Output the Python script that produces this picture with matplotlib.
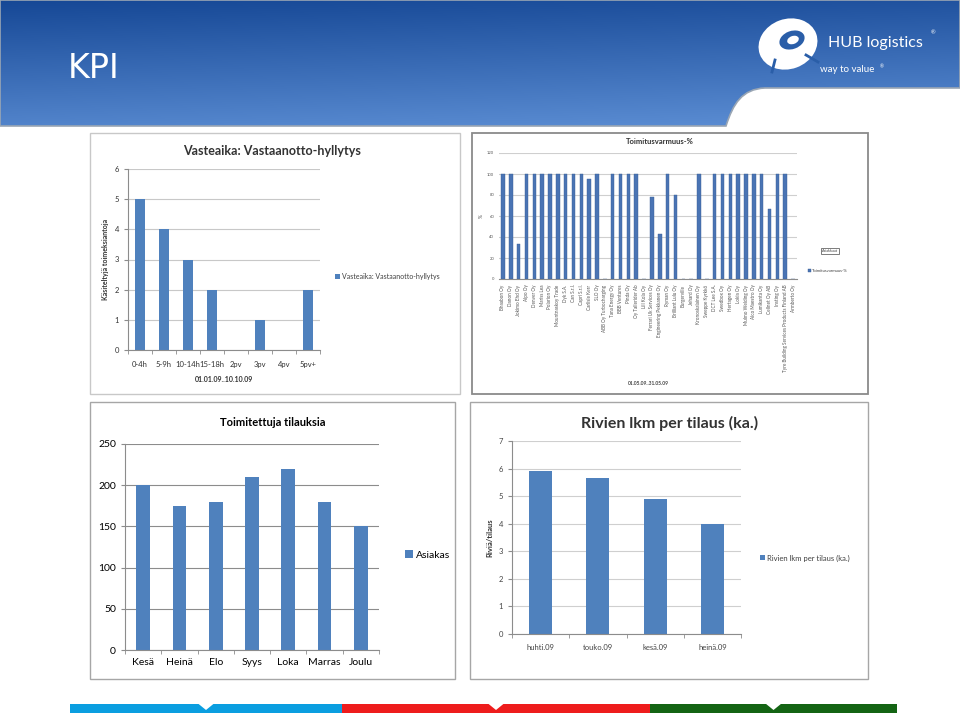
import numpy as np
import matplotlib
matplotlib.use("Agg")
import matplotlib.pyplot as plt
from matplotlib.patches import Rectangle, PathPatch, Ellipse, Polygon
from matplotlib.path import Path

plt.rcParams['font.family'] = ['Lato', 'DejaVu Sans']

W, H = 960, 716

# --- data -------------------------------------------------------------
vaste_cats = ['0-4h', '5-9h', '10-14h', '15-18h', '2pv', '3pv', '4pv', '5pv+']
vaste_vals = [5, 4, 3, 2, 0, 1, 0, 2]

toimitus_cats = ['Bhaabon Oy', 'Danon Oy', 'Jokimo Ehd Oy', 'Alpo Oy', 'Denver Oy',
                 'Mariss Lea', 'Polarion Oy', 'Mountnaskoy Trade', 'Dyk S.A.',
                 'Can S.r.l.', 'Capri S.r.l.', 'Carlisle Kerr', 'SLO Oy',
                 'ABB Oy Turbocharging', 'Tana Energy Oy', 'BBB Ventures', 'Pinda Oy',
                 'Oy Tallerider Ab', 'Lill Kola Oy', 'Ferrari Uk Services Oy',
                 'Engineering Pekkanen Oy', 'Ryman Oy', 'Brilliant Lulu Oy',
                 'Burgerville', 'Jehard Oy', 'Kronoskalainen Oy', 'Sweppe Kyrkkö',
                 'DCT Lee S.A.', 'Swedbox Oy', 'Hertagen Oy', 'Lokia Oy',
                 'Mulmo Welding Oy', 'Alco Maestro Oy', 'Lumikanta Oy', 'Cellnet Oy AB',
                 'Insting Oy', 'Tyre Building Services Products Finland AB', 'Armberto Oy']
toimitus_vals = [100, 100, 33, 100, 100, 100, 100, 100, 100, 100, 100, 95, 100, 0,
                 100, 100, 100, 100, 0, 78, 43, 100, 80, 0, 0, 100, 0, 100, 100, 100,
                 100, 100, 100, 100, 67, 100, 100, 0]

kk_cats = ['Kesä', 'Heinä', 'Elo', 'Syys', 'Loka', 'Marras', 'Joulu']
kk_vals = [200, 175, 180, 210, 220, 180, 150]

rivi_cats = ['huhti.09', 'touko.09', 'kesä.09', 'heinä.09']
rivi_vals = [5.9, 5.65, 4.9, 4.0]

BLUE = '#4F81BD'

fig = plt.figure(figsize=(W / 100, H / 100), dpi=100)
fig.patch.set_facecolor('white')

# background axes in pixel coordinates
bg = fig.add_axes([0, 0, 1, 1])
bg.set_xlim(0, W)
bg.set_ylim(H, 0)
bg.axis('off')

# header with gradient
verts = [(0, 0), (W, 0), (W, 88), (765, 88), (742, 89), (733, 104), (726, 126), (0, 126), (0, 0)]
codes = [Path.MOVETO, Path.LINETO, Path.LINETO, Path.LINETO,
         Path.CURVE4, Path.CURVE4, Path.CURVE4, Path.LINETO, Path.CLOSEPOLY]
hdr = PathPatch(Path(verts, codes), facecolor='none', edgecolor='#9aa6b4', lw=1.2)
bg.add_patch(hdr)
yy = np.linspace(0, 1, 128)[:, None]
xx = np.linspace(0, 1, 256)[None, :]
top = np.array([22, 72, 150]) / 255
bot = np.array([92, 142, 212]) / 255
t = np.clip(yy * 0.85 + xx * 0.15, 0, 1)[..., None]
grad = top * (1 - t) + bot * t
im = bg.imshow(grad, extent=(0, W, 126, 0), aspect='auto', zorder=0)
im.set_clip_path(hdr)

bg.text(68, 68, 'KPI', color='white', fontsize=24, va='center', ha='left',
        family=['DejaVu Sans'])

# logo
bg.add_patch(Ellipse((788, 44), 60, 50, angle=-20, facecolor='white', edgecolor='none'))
bg.add_patch(Ellipse((792, 40), 26, 18, angle=-20, facecolor='#2a5ea8', edgecolor='none'))
bg.add_patch(Ellipse((793, 40), 12, 8, angle=-20, facecolor='white', edgecolor='none'))
bg.plot([806, 818], [55, 62], color='#2a5ea8', lw=2)
bg.plot([775, 772], [60, 72], color='#2a5ea8', lw=2)
bg.text(828, 43, 'HUB logistics', color='white', fontsize=11.5, va='center', ha='left')
bg.text(931, 33, '®', color='white', fontsize=4, va='center')
bg.text(820, 70, 'way to value', color='white', fontsize=7, va='center', ha='left')
bg.text(880, 67, '®', color='white', fontsize=3.5, va='center')

# panel frames
bg.add_patch(Rectangle((90, 133), 370, 261, facecolor='white', edgecolor='#c8c8c8', lw=1))
bg.add_patch(Rectangle((472, 133), 396, 261, facecolor='white', edgecolor='#8a8a8a', lw=1.3))
bg.add_patch(Rectangle((90, 402), 365, 277, facecolor='white', edgecolor='#a6a6a6', lw=1))
bg.add_patch(Rectangle((470, 402), 398, 277, facecolor='white', edgecolor='#a6a6a6', lw=1))

# bottom colour stripes
stripes = [(70, 342, '#0a9ee0'), (342, 650, '#ee1c1c'), (650, 897, '#146414')]
for x0, x1, col in stripes:
    bg.add_patch(Rectangle((x0, 704), x1 - x0, 9, facecolor=col, edgecolor='none'))
    xm = (x0 + x1) / 2
    bg.add_patch(Polygon([(xm - 8, 703.5), (xm + 8, 703.5), (xm, 710)], facecolor='white',
                         edgecolor='none'))


def ax_at(x0, y0, x1, y1):
    return fig.add_axes([x0 / W, 1 - y1 / H, (x1 - x0) / W, (y1 - y0) / H])


def excel_style(ax, n, grid_col='#b0b0b0', fs=6, tick_col='black'):
    ax.set_xlim(-0.5, n - 0.5)
    for s in ['top', 'right']:
        ax.spines[s].set_visible(False)
    for s in ['left', 'bottom']:
        ax.spines[s].set_color('#8c8c8c')
        ax.spines[s].set_linewidth(0.8)
    ax.yaxis.grid(True, color=grid_col, lw=0.8)
    ax.set_axisbelow(True)
    ax.set_xticks(np.arange(n))
    ax.set_xticks(np.arange(n + 1) - 0.5, minor=True)
    ax.tick_params(axis='x', which='major', length=0, pad=4, labelsize=fs, colors=tick_col)
    ax.tick_params(axis='x', which='minor', length=3, color='#8c8c8c')
    ax.tick_params(axis='y', length=3, color='#8c8c8c', labelsize=fs, colors=tick_col)
    ax.patch.set_alpha(0)


def legend_at(ax, label, px, py, fs):
    h = ax.patches[0]
    ax.legend([h], [label], loc='center left', bbox_to_anchor=(px / W, 1 - py / H),
              bbox_transform=fig.transFigure, frameon=False, fontsize=fs,
              handlelength=0.7, handleheight=0.7, handletextpad=0.3, borderpad=0,
              labelcolor='#404040')


# --- top-left: Vasteaika ---------------------------------------------
ax1 = ax_at(128, 169, 320, 350)
x = np.arange(len(vaste_cats))
ax1.bar(x, vaste_vals, width=0.4, color=BLUE)
excel_style(ax1, len(vaste_cats), grid_col='#c8c8c8', fs=5.5, tick_col='#333333')
ax1.tick_params(axis='x', which='major', pad=8)
ax1.set_ylim(0, 6)
ax1.set_yticks(range(7))
ax1.set_xticklabels(vaste_cats)
ax1.set_xlabel('01.01.09..10.10.09', fontsize=5, fontweight='bold', labelpad=6, color='#333333')
ax1.set_ylabel('Käsiteltyjä toimeksiantoja', fontsize=5, fontweight='bold', color='#333333')
legend_at(ax1, 'Vasteaika: Vastaanotto-hyllytys', 332, 276, 5)
bg.text(272, 151, 'Vasteaika: Vastaanotto-hyllytys', fontsize=9, fontweight='bold',
        ha='center', va='center', color='#333333')

# --- top-right: Toimitusvarmuus --------------------------------------
ax2 = ax_at(499, 153, 797, 279)
x = np.arange(len(toimitus_cats))
ax2.bar(x, toimitus_vals, width=0.45, color='#4a74b4', edgecolor='#3a5f96', lw=0.3)
excel_style(ax2, len(toimitus_cats), grid_col='#cfcfcf', fs=3, tick_col='#555555')
ax2.set_ylim(0, 120)
ax2.set_yticks(range(0, 121, 20))
ax2.set_xticklabels(toimitus_cats, rotation=90, fontsize=3.3)
ax2.tick_params(axis='x', which='minor', length=0)
ax2.tick_params(axis='y', length=0)
ax2.spines['left'].set_visible(False)
ax2.set_xlabel('01.05.09..31.05.09', fontsize=3.5, fontweight='bold', color='#444444',
               labelpad=6)
ax2.set_ylabel('%', fontsize=3.5, color='#444444', labelpad=2)
legend_at(ax2, 'Toimitusvarmuus-%', 806, 271, 3)
bg.text(660, 142, 'Toimitusvarmuus-%', fontsize=5.5, fontweight='bold', ha='center',
        va='center', color='#333333')
bg.text(830, 251, 'Asiakkaat', fontsize=2.8, ha='center', va='center', color='#444444',
        bbox=dict(boxstyle='square,pad=0.3', facecolor='white', edgecolor='#666666', lw=0.6))

# --- bottom-left: Toimitettuja tilauksia ------------------------------
ax3 = ax_at(125, 444, 379, 650)
x = np.arange(len(kk_cats))
ax3.bar(x, kk_vals, width=0.38, color=BLUE)
excel_style(ax3, len(kk_cats), grid_col='#8c8c8c', fs=7.5)
ax3.tick_params(axis='x', which='major', pad=6)
ax3.set_ylim(0, 250)
ax3.set_yticks(range(0, 251, 50))
ax3.set_xticklabels(kk_cats)
legend_at(ax3, 'Asiakas', 400, 555, 7.5)
ax3.get_legend().get_texts()[0].set_color('black')
bg.text(273, 422, 'Toimitettuja tilauksia', fontsize=8, fontweight='bold',
        ha='center', va='center')

# --- bottom-right: Rivien lkm per tilaus -----------------------------
ax4 = ax_at(512, 441, 741, 634)
x = np.arange(len(rivi_cats))
ax4.bar(x, rivi_vals, width=0.4, color=BLUE)
excel_style(ax4, len(rivi_cats), grid_col='#cfcfcf', fs=5.5, tick_col='#444444')
ax4.tick_params(axis='x', which='major', pad=7)
ax4.set_ylim(0, 7)
ax4.set_yticks(range(8))
ax4.set_xticklabels(rivi_cats)
ax4.set_ylabel('Riviä/tilaus', fontsize=5.5, fontweight='bold', color='#333333')
legend_at(ax4, 'Rivien lkm per tilaus (ka.)', 756, 558, 5.5)
bg.text(670, 423, 'Rivien lkm per tilaus (ka.)', fontsize=11.5, fontweight='bold',
        ha='center', va='center', color='#333333')

fig.savefig('out.png', dpi=100)
